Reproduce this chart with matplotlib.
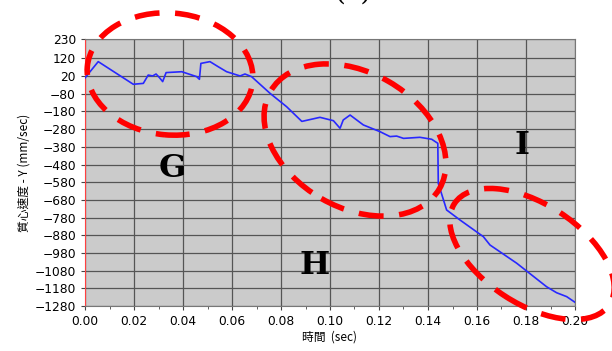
import matplotlib.pyplot as plt
import numpy as np
from matplotlib.patches import Ellipse

# velocity trace
t = [0.0, 0.0054, 0.0197, 0.0238, 0.0258, 0.0276, 0.029, 0.0303, 0.0317, 0.0331,
     0.0395, 0.0456, 0.0467, 0.0473, 0.051, 0.0544, 0.0578, 0.0633, 0.0653, 0.068,
     0.0755, 0.0823, 0.0885, 0.0959, 0.1014, 0.1041, 0.1054, 0.1082, 0.1136, 0.1204,
     0.1245, 0.1272, 0.13, 0.1367, 0.1415, 0.144, 0.1442, 0.1476, 0.1531, 0.1626,
     0.1653, 0.1762, 0.1884, 0.1925, 0.1966, 0.2]
vy = [10, 102, -26, -21, 26, 21, 32, 13, -11, 40,
      45, 17, 2, 92, 102, 73, 45, 21, 32, 17,
      -77, -153, -236, -213, -232, -275, -228, -200, -256, -294,
      -322, -319, -332, -326, -337, -360, -586, -737, -794, -888,
      -935, -1038, -1171, -1205, -1227, -1259]

yticks = [230, 120, 20, -80, -180, -280, -380, -480, -580, -680, -780,
          -880, -980, -1080, -1180, -1280]
xticks = [0.00, 0.02, 0.04, 0.06, 0.08, 0.10, 0.12, 0.14, 0.16, 0.18, 0.20]

fig = plt.figure(figsize=(6.12, 3.51), dpi=100)
ax = fig.add_axes([85/612, 1-306/351, 490/612, 267/351])
ax.set_facecolor('#cbcbcb')
ax.plot(t, vy, color='#2828ff', lw=1.2, zorder=3)

ax.set_xlim(0, 0.2)
ax.set_ylim(-1280, 230)
ax.set_yticks(yticks)
ax.set_xticks(xticks)
ax.set_xticks(np.arange(0.01, 0.2, 0.02), minor=True)
ax.set_xticklabels(['%.2f' % v for v in xticks])
ax.tick_params(labelsize=8.8, length=3, color='#444444')
ax.tick_params(axis='x', which='minor', length=2, color='#444444')
ax.grid(True, color='#555555', lw=0.9)
for s in ['top', 'right', 'bottom']:
    ax.spines[s].set_color('#777777')
ax.spines['left'].set_color('#ff4040')

ax.set_xlabel('時間  (sec)', family=['Noto Sans CJK TC', 'DejaVu Sans'], fontsize=8.5, labelpad=2)
ax.set_ylabel('質心速度 - Y (mm/sec)', family=['Noto Sans CJK TC', 'DejaVu Sans'], fontsize=8.5, labelpad=3)

# region letters
for lab, px, py in [('G', 172, 168), ('H', 315, 265), ('I', 522, 146)]:
    fig.text(px/612, 1-py/351, lab, family='DejaVu Serif', fontweight='bold',
             fontsize=23, ha='center', va='center')

# dashed red ellipses (figure inches)
for cx, cy, w, h, ang in [(170, 74, 166, 122, -5), (355, 140, 195, 135, -30),
                          (532, 254, 185, 100, -33)]:
    e = Ellipse((cx/100, (351-cy)/100), w/100, h/100, angle=ang,
                transform=fig.dpi_scale_trans, fill=False, ec='red', lw=4,
                ls=(0, (4.5, 2.8)), zorder=5)
    fig.add_artist(e)

fig.text(353/612, 1-6/351, '(c)', family='DejaVu Serif', fontsize=20,
         ha='center', va='bottom')

fig.savefig('out.png', dpi=100)
